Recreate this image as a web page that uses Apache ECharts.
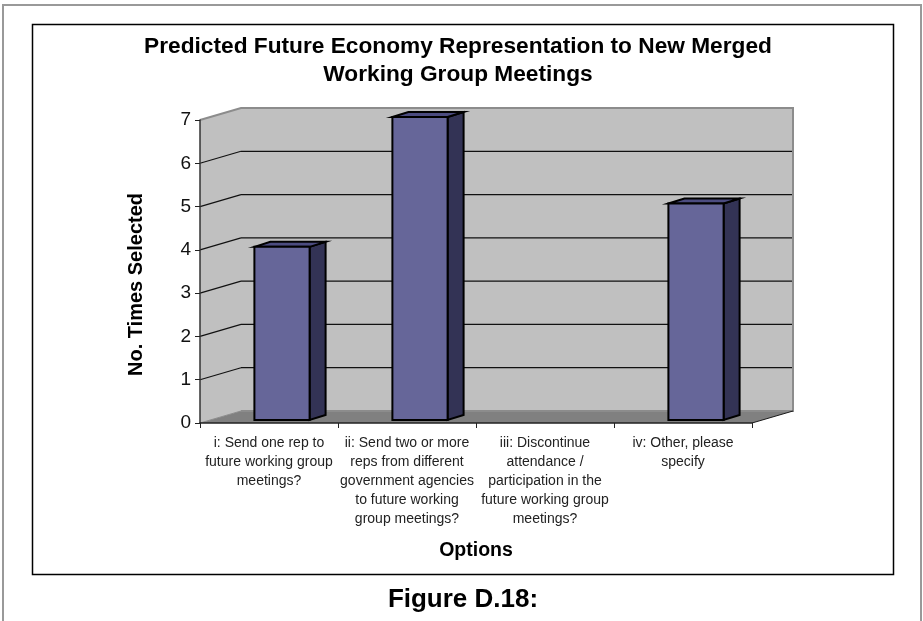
<!DOCTYPE html>
<html><head><meta charset="utf-8">
<style>html,body{margin:0;padding:0;background:#fff}#c{width:923px;height:621px}</style>
<script src="https://cdn.jsdelivr.net/npm/echarts@6/dist/echarts.min.js"></script>
</head><body><div id="c"></div>
<script>
const categories = [
  "i: Send one rep to\nfuture working group\nmeetings?",
  "ii: Send two or more\nreps from different\ngovernment agencies\nto future working\ngroup meetings?",
  "iii: Discontinue\nattendance /\nparticipation in the\nfuture working group\nmeetings?",
  "iv: Other, please\nspecify"
];
const timesSelected = [4, 7, 0, 5];
const yTicks = [0, 1, 2, 3, 4, 5, 6, 7];
const chartTitle = "Predicted Future Economy Representation to New Merged\nWorking Group Meetings";
const xName = "Options";
const yName = "No. Times Selected";
const figureCaption = "Figure D.18:";

const DEPTH = [41, -12], BAR_OFF = [13, -3], BAR_D = [16, -5], FONT = '"Liberation Sans", Arial, sans-serif';

function poly(points, fill, stroke, lw) {
  return {type: 'polygon', shape: {points}, style: {fill, stroke: stroke || 'none', lineWidth: lw || 0, lineJoin: 'miter'}};
}
function seg(a, b, stroke, lw) {
  return {type: 'line', shape: {x1: a[0], y1: a[1], x2: b[0], y2: b[1]}, style: {stroke, lineWidth: lw}};
}
function renderWalls(params, api) {
  const band = api.size([1, 0])[0];
  const x0 = api.coord([0, 0])[0] - band / 2, x1 = x0 + band * categories.length;
  const yb = api.coord([0, 0])[1], yt = api.coord([0, yTicks[yTicks.length - 1]])[1];
  const dx = DEPTH[0], dy = DEPTH[1];
  const kids = [
    poly([[x0 + dx, yt + dy], [x1 + dx, yt + dy], [x1 + dx, yb + dy], [x0 + dx, yb + dy]], '#C0C0C0'),
    poly([[x0, yt], [x0 + dx, yt + dy], [x0 + dx, yb + dy], [x0, yb]], '#C0C0C0'),
    poly([[x0, yb], [x0 + dx, yb + dy], [x1 + dx, yb + dy], [x1, yb]], '#808080')
  ];
  yTicks.slice(1, -1).forEach(t => {
    const y = api.coord([0, t])[1];
    kids.push(seg([x0, y], [x0 + dx, y + dy], '#111', 1.2));
    kids.push(seg([x0 + dx, y + dy], [x1 + dx, y + dy], '#111', 1.3));
  });
  kids.push({type: 'polyline', shape: {points: [[x0, yt], [x0 + dx, yt + dy], [x1 + dx, yt + dy], [x1 + dx, yb + dy], [x0 + dx, yb + dy]]},
    style: {fill: null, stroke: '#8c8c8c', lineWidth: 2}});
  kids.push(seg([x0 + dx, yb + dy], [x0, yb], '#8c8c8c', 1));
  kids.push(seg([x1 + dx, yb + dy], [x1, yb], '#1a1a1a', 1));
  return {type: 'group', children: kids};
}
function renderBar(params, api) {
  const v = api.value(1);
  if (!v) return null;
  const c = api.coord([api.value(0), v]), b = api.coord([api.value(0), 0]);
  const w = api.size([1, 0])[0] * 0.4;
  const l = c[0] - w / 2 + BAR_OFF[0], r = l + w, t = c[1] + BAR_OFF[1], bt = b[1] + BAR_OFF[1];
  const dx = BAR_D[0], dy = BAR_D[1];
  return {type: 'group', children: [
    poly([[r, t], [r + dx, t + dy], [r + dx, bt + dy], [r, bt]], '#333355', '#000', 2),
    poly([[l, t], [l + dx, t + dy], [r + dx, t + dy], [r, t]], '#4C4C80', '#000', 2),
    poly([[l, t], [r, t], [r, bt], [l, bt]], '#666699', '#000', 2)
  ]};
}

const chart = echarts.init(document.getElementById('c'), null, {renderer: 'canvas'});
chart.setOption({
  animation: false,
  backgroundColor: '#fff',
  title: [
    {text: chartTitle, left: 453, top: 28, textAlign: 'center',
     textStyle: {fontFamily: FONT, fontSize: 22.7, fontWeight: 'bold', color: '#000', lineHeight: 28, align: 'center'}},
    {text: figureCaption, left: 458, top: 582, textAlign: 'center',
     textStyle: {fontFamily: FONT, fontSize: 26, fontWeight: 'bold', color: '#000'}}
  ],
  graphic: [
    {type: 'polyline', z: -1, shape: {points: [[3, 621], [3, 5], [921, 5], [921, 621]]}, style: {fill: null, stroke: '#999', lineWidth: 2}},
    {type: 'rect', z: -1, shape: {x: 32.5, y: 24.5, width: 861, height: 550}, style: {fill: '#fff', stroke: '#000', lineWidth: 1.5}}
  ],
  grid: {left: 200, top: 120, width: 552, height: 303, containLabel: false},
  xAxis: {
    type: 'category', data: categories, z: 5,
    name: xName, nameLocation: 'middle', nameGap: 118,
    nameTextStyle: {fontFamily: FONT, fontSize: 19.5, fontWeight: 'bold', color: '#000'},
    axisLine: {show: true, lineStyle: {color: '#222', width: 1.5}},
    axisTick: {show: true, alignWithLabel: false, length: 5, lineStyle: {color: '#222'}},
    axisLabel: {interval: 0, margin: 11, fontFamily: FONT, fontSize: 14, color: '#222', lineHeight: 19, align: 'center', verticalAlign: 'top'}
  },
  yAxis: {
    type: 'value', min: 0, max: 7, interval: 1, z: 5,
    name: yName, nameLocation: 'middle', nameGap: 54,
    nameTextStyle: {fontFamily: FONT, fontSize: 20, fontWeight: 'bold', color: '#000', padding: [0, 26, 0, 0]},
    axisLine: {show: true, lineStyle: {color: '#333', width: 1.5}},
    axisTick: {show: true, length: 5, lineStyle: {color: '#222'}},
    axisLabel: {margin: 9, fontFamily: FONT, fontSize: 19, color: '#111', padding: [3, 0, 0, 0]},
    splitLine: {show: false}
  },
  series: [
    {type: 'custom', name: 'walls', z: 2, silent: true, renderItem: renderWalls, data: [[0, 0]], encode: {x: 0, y: 1}},
    {type: 'custom', name: xName, z: 3, renderItem: renderBar,
     data: timesSelected.map((v, i) => [i, v]), encode: {x: 0, y: 1}}
  ]
});
</script></body></html>
